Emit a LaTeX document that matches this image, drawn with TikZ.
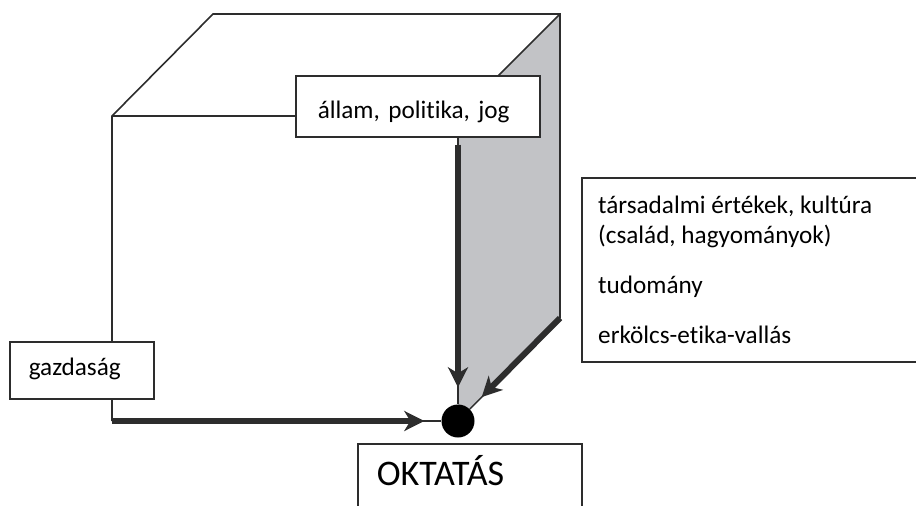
\documentclass[tikz,border=0pt]{standalone}
\usepackage{fontspec}
\setmainfont{Carlito}[Ligatures=NoCommon]
\usetikzlibrary{arrows.meta}
\definecolor{ink}{RGB}{45,45,45}
\definecolor{sidegray}{RGB}{194,195,198}
\tikzset{
  box/.style={draw=ink, line width=1.6pt, fill=white, anchor=north west, inner ysep=0pt, align=left, font=\fontsize{25.2}{30}\selectfont},
  edge/.style={draw=ink, line width=1.6pt},
  label/.style={anchor=base west, inner sep=0pt, font=\fontsize{25.2}{30}\selectfont},
  force/.style={ink, line width=6pt, -{Stealth[length=20pt,width=20pt,inset=6pt]}, shorten >=17pt}
}
\begin{document}
\begin{tikzpicture}[x=1pt,y=-1pt]
  \useasboundingbox (0,0) rectangle (916,506);
  % the cube
  \fill[sidegray] (458,116) -- (560,14) -- (560,318) -- (458,421) -- cycle;
  \draw[edge] (112,421) -- (112,116) -- (213,14) -- (560,14) -- (560,318);
  \draw[edge] (112,116) -- (458,116) -- (560,14);
  \coordinate (corner) at (112,421);
  \coordinate (back) at (560,318);
  % boxes
  \node[box, inner xsep=22pt, text width=200pt, text height=43pt, text depth=18pt] (state) at (295,75) {állam, politika, jog};
  \node[box, inner xsep=19pt, text width=106pt, text height=34pt, text depth=23pt] (economy) at (9,341) {gazdaság};
  \node[box, inner xsep=19pt, text width=186pt, text height=42pt, text depth=80pt, font=\fontsize{36}{42}\selectfont] (education) at (357,443) {OKTATÁS};
  \node[box, minimum width=360pt, minimum height=184pt] (values) at (581,177) {};
  \node[label] (values1) at (598,213) {társadalmi értékek, kultúra};
  \node[label] (values2) at (598,243) {(család, hagyományok)};
  \node[label] (values3) at (598,293) {tudomány};
  \node[label] (values4) at (598,343) {erkölcs-etika-vallás};
  % the meeting point
  \node[circle, fill=black, minimum size=33pt, inner sep=0pt] (hub) at (458,421) {};
  % forces
  \draw[ink, line width=1.4pt] (corner) -- (hub);
  \draw[force] (corner) -- (hub);
  \draw[ink, line width=1.4pt] (state.south -| hub) -- (hub);
  \draw[force, shorten <=7pt] (state.south -| hub) -- (hub);
  \draw[ink, line width=1.4pt] (back) -- (hub);
  \draw[force] (back) -- (hub);
\end{tikzpicture}
\end{document}
